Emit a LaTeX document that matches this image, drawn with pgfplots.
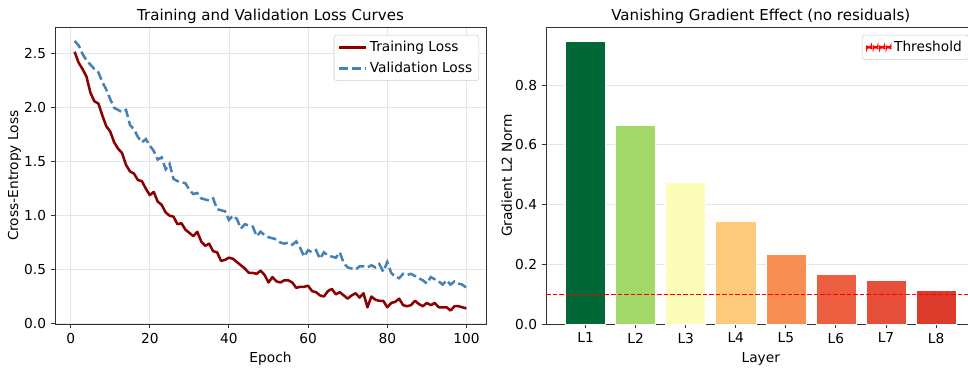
\documentclass[border=0pt]{standalone}
\usepackage{fontspec}
\setmainfont{DejaVu Sans}
\usepackage{pgfplots}
\pgfplotsset{compat=1.18}
\usepackage{pgfplotstable}

\definecolor{trainred}{HTML}{8B0000}
\definecolor{valblue}{HTML}{4682B4}
\definecolor{thred}{HTML}{FF0000}
\definecolor{cA}{HTML}{006837}
\definecolor{cB}{HTML}{A3D86A}
\definecolor{cC}{HTML}{FCFDB8}
\definecolor{cD}{HTML}{FDCA7B}
\definecolor{cE}{HTML}{F88E52}
\definecolor{cF}{HTML}{EB5E3F}
\definecolor{cG}{HTML}{E6503A}
\definecolor{cH}{HTML}{DC3B2B}
\definecolor{spine}{HTML}{333333}

\pgfplotstableread{
epoch train val
1 2.52 2.62
2 2.42 2.58
3 2.36 2.50
4 2.29 2.44
5 2.14 2.40
6 2.06 2.36
7 2.04 2.33
8 1.93 2.24
9 1.83 2.17
10 1.78 2.08
11 1.68 2.00
12 1.62 1.98
13 1.58 1.96
14 1.47 1.98
15 1.41 1.84
16 1.39 1.80
17 1.33 1.73
18 1.32 1.68
19 1.25 1.71
20 1.19 1.65
21 1.22 1.60
22 1.13 1.52
23 1.10 1.54
24 1.03 1.43
25 1.00 1.48
26 0.99 1.34
27 0.92 1.32
28 0.93 1.31
29 0.87 1.30
30 0.84 1.24
31 0.81 1.20
32 0.85 1.21
33 0.76 1.16
34 0.72 1.15
35 0.74 1.14
36 0.67 1.16
37 0.66 1.06
38 0.58 1.05
39 0.59 1.04
40 0.61 0.96
41 0.60 1.00
42 0.57 0.97
43 0.54 0.88
44 0.51 0.92
45 0.47 0.91
46 0.47 0.90
47 0.46 0.81
48 0.49 0.85
49 0.45 0.82
50 0.38 0.80
51 0.43 0.79
52 0.39 0.78
53 0.38 0.75
54 0.40 0.74
55 0.40 0.75
56 0.38 0.73
57 0.33 0.76
58 0.34 0.70
59 0.34 0.62
60 0.35 0.68
61 0.30 0.66
62 0.29 0.68
63 0.26 0.60
64 0.25 0.66
65 0.30 0.63
66 0.32 0.62
67 0.27 0.61
68 0.29 0.66
69 0.26 0.56
70 0.23 0.52
71 0.26 0.51
72 0.28 0.50
73 0.24 0.53
74 0.28 0.53
75 0.15 0.52
76 0.25 0.54
77 0.22 0.52
78 0.21 0.55
79 0.21 0.48
80 0.15 0.57
81 0.19 0.47
82 0.20 0.43
83 0.23 0.42
84 0.17 0.46
85 0.16 0.45
86 0.17 0.46
87 0.21 0.44
88 0.18 0.42
89 0.16 0.40
90 0.19 0.37
91 0.17 0.43
92 0.19 0.41
93 0.15 0.39
94 0.15 0.36
95 0.15 0.40
96 0.12 0.36
97 0.16 0.39
98 0.16 0.37
99 0.15 0.36
100 0.14 0.33
}\losstable

\pgfplotsset{
  mplstyle/.style={
    scale only axis,
    axis line style={spine, line width=0.7pt},
    every tick/.style={spine, line width=0.7pt},
    tick align=outside,
    major tick length=3.2pt,
    tick pos=left,
    font=\fontsize{10.3}{12}\selectfont,
    ticklabel style={font=\fontsize{10.3}{12}\selectfont},
    label style={font=\fontsize{10.3}{12}\selectfont},
    ylabel style={xshift=0pt, yshift=-4.5pt},
    title style={font=\fontsize{11.3}{13}\selectfont, yshift=-6.5pt},
    /pgf/number format/assume math mode=true,
    grid style={black!10, line width=0.6pt},
    legend cell align=left,
    legend style={at={(0.984,0.975)}, anchor=north east, draw=black!20,
      rounded corners=2pt, fill=white,
      font=\fontsize{10.3}{12}\selectfont, inner xsep=3pt, inner ysep=2.5pt,
      row sep=2.5pt},
    legend image code/.code={\draw[##1] (0pt,0pt) -- (20pt,0pt);},
  }
}

\begin{document}
\begin{tikzpicture}
\begin{axis}[mplstyle,
  at={(41.25pt,33.75pt)}, anchor=south west,
  width=323.25pt, height=222.4pt,
  xmin=-3.95, xmax=104.95, ymin=-0.005, ymax=2.745,
  xtick={0,20,40,60,80,100},
  ytick={0,0.5,1,1.5,2,2.5},
  yticklabel style={/pgf/number format/.cd, fixed, fixed zerofill, precision=1},
  grid=major,
  title={Training and Validation Loss Curves},
  xlabel={Epoch}, ylabel={Cross-Entropy Loss},
]
\addplot[draw=trainred, line width=1.9pt, line join=round] table[x=epoch, y=train] {\losstable};
\addlegendentry{Training Loss}
\addplot[draw=valblue, line width=1.9pt, dash pattern=on 6.8pt off 2.9pt] table[x=epoch, y=val] {\losstable};
\addlegendentry{Validation Loss}
\end{axis}

\begin{axis}[mplstyle,
  at={(409.5pt,33.75pt)}, anchor=south west,
  width=322.2pt, height=222.4pt,
  xmin=-0.79, xmax=7.79, ymin=0, ymax=0.993,
  xtick={0,1,2,3,4,5,6,7},
  xticklabels={L1,L2,L3,L4,L5,L6,L7,L8},
  ytick={0,0.2,0.4,0.6,0.8},
  yticklabel style={/pgf/number format/.cd, fixed, fixed zerofill, precision=1},
  ymajorgrids,
  title={Vanishing Gradient Effect (no residuals)},
  xlabel={Layer}, ylabel={Gradient L2 Norm},
]
\addplot[forget plot, ybar, bar shift=0pt, bar width=0.8, fill=cA, draw=white, line width=0.4pt] coordinates {(0,0.946)};
\addplot[forget plot, ybar, bar shift=0pt, bar width=0.8, fill=cB, draw=white, line width=0.4pt] coordinates {(1,0.667)};
\addplot[forget plot, ybar, bar shift=0pt, bar width=0.8, fill=cC, draw=white, line width=0.4pt] coordinates {(2,0.476)};
\addplot[forget plot, ybar, bar shift=0pt, bar width=0.8, fill=cD, draw=white, line width=0.4pt] coordinates {(3,0.343)};
\addplot[forget plot, ybar, bar shift=0pt, bar width=0.8, fill=cE, draw=white, line width=0.4pt] coordinates {(4,0.234)};
\addplot[forget plot, ybar, bar shift=0pt, bar width=0.8, fill=cF, draw=white, line width=0.4pt] coordinates {(5,0.166)};
\addplot[forget plot, ybar, bar shift=0pt, bar width=0.8, fill=cG, draw=white, line width=0.4pt] coordinates {(6,0.146)};
\addplot[forget plot, ybar, bar shift=0pt, bar width=0.8, fill=cH, draw=white, line width=0.4pt] coordinates {(7,0.114)};
\addplot[draw=thred, line width=0.92pt, dash pattern=on 3.4pt off 1.5pt,
  legend image code/.code={%
    \fill[thred] (0pt,-0.5pt) rectangle (3.4pt,0.5pt);
    \fill[thred] (4.9pt,-0.5pt) rectangle (8.3pt,0.5pt);
    \fill[thred] (9.8pt,-0.5pt) rectangle (13.2pt,0.5pt);
    \fill[thred] (14.7pt,-0.5pt) rectangle (18.1pt,0.5pt);}]
  coordinates {(-0.79,0.1) (7.79,0.1)};
\addlegendentry{Threshold}
\end{axis}
\pgfresetboundingbox
\path[use as bounding box] (0pt,0pt) rectangle (726pt,276.75pt);
\end{tikzpicture}
\end{document}
